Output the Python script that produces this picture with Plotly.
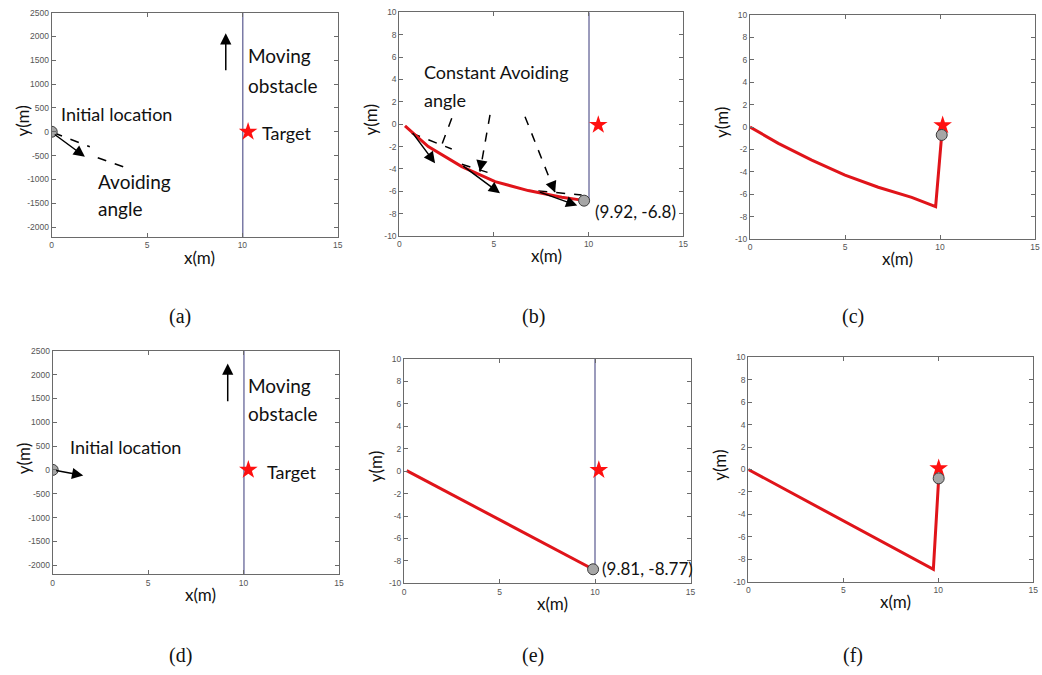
import plotly.graph_objects as go

OFF = 0
W, H = 1042, 675

# ---------------- data ----------------
x_ticks = [0, 5, 10, 15]
ya_ticks = [2500, 2000, 1500, 1000, 500, 0, -500, -1000, -1500, -2000]
yb_ticks = [10, 8, 6, 4, 2, 0, -2, -4, -6, -8, -10]

obstacle_x = 10.02
target_a = (10.3, 0)
target_d = (10.25, 0)
start_pt = (0, 0)

# panel (a) arrows (tail -> head)
a_move_arrow = [(9.13, 1260), (9.13, 2070)]
a_heading_arrow = [(0.08, -34), (1.74, -525)]
a_dash_line = [(0.1, -20), (2.0, -315)]
a_dash_arrow = [(3.75, -735), (2.27, -525)]

# panel (d) arrows
d_move_arrow = [(9.17, 1408), (9.17, 2232)]
d_heading_arrow = [(0.1, -5), (1.6, -119)]

# panel (b) trajectory
b_x = [0.30, 1.53, 3.30, 5.06, 6.81, 8.58, 9.55, 9.76]
b_y = [-0.16, -2.01, -3.80, -5.14, -5.94, -6.53, -6.77, -6.84]
b_end = (9.76, -6.84)
b_target = (10.51, -0.07)
b_solid_arrows = [[(0.65, -0.67), (1.89, -3.49)],
                  [(3.30, -3.65), (5.32, -6.18)],
                  [(7.34, -6.03), (9.40, -7.28)]]
b_dash_lines = [[(0.65, -0.81), (2.77, -2.22)],
                [(3.30, -3.58), (4.97, -4.48)],
                [(7.34, -5.97), (9.63, -6.33)]]
b_dash_arrows = [[(2.77, 0.53), (2.24, -1.86)],
                 [(4.79, 0.82), (4.26, -4.24)],
                 [(6.64, 0.67), (8.23, -6.12)]]

# panel (c) trajectory
c_x = [0.0, 1.49, 3.25, 5.00, 6.75, 8.51, 9.77, 10.09]
c_y = [0.0, -1.46, -2.95, -4.29, -5.38, -6.28, -7.12, -0.71]
c_end = (10.09, -0.71)
c_target = (10.14, 0.15)

# panel (e) trajectory
e_x = [0.14, 9.9]
e_y = [0.05, -8.75]
e_end = (9.9, -8.75)
e_target = (10.2, 0.1)

# panel (f) trajectory
f_x = [0.0, 9.74, 10.02]
f_y = [0.0, -8.9, -0.79]
f_end = (10.02, -0.79)
f_target = (10.02, 0.1)

# ---------------- layout helpers ----------------
# plot frames in page pixels: (left, right, top, bottom)
frames = {
    1: (51.7, 337.7, 12.7, 237.0),
    2: (399.3, 683.3, 12.3, 236.0),
    3: (750.0, 1035.0, 15.0, 239.0),
    4: (52.7, 339.0, 350.7, 574.3),
    5: (404.0, 690.5, 359.0, 583.3),
    6: (748.3, 1033.3, 357.3, 581.7),
}
yranges = {1: [-2210, 2500], 2: [-10, 10], 3: [-10, 10],
           4: [-2190, 2500], 5: [-10, 10], 6: [-10, 10]}


def px(x):
    return (x - OFF) / W


def py(y):
    return 1 - (y - OFF) / H


RED = "#e0141a"
OBST = "#7a7aa6"
AX = "#6a6a6a"
TXTFONT = "Lato"

fig = go.Figure()
layout = dict(width=W, height=H, margin=dict(l=0, r=0, t=0, b=0, autoexpand=False),
              paper_bgcolor="white", plot_bgcolor="white", showlegend=False)

for i, (l, r, t, b) in frames.items():
    s = "" if i == 1 else str(i)
    big = i in (1, 4)
    layout["xaxis" + s] = dict(
        domain=[px(l), px(r)], range=[0, 15], anchor="y" + s, automargin=False,
        tickvals=x_ticks, ticktext=[str(v) for v in x_ticks], ticklabeloverflow="allow",
        ticks="inside", ticklen=4, tickcolor=AX, showline=True, linecolor=AX,
        linewidth=1, mirror="ticks", showgrid=False, zeroline=False,
        tickfont=dict(family="Liberation Sans", size=8.5, color="#555"))
    yt = ya_ticks if big else yb_ticks
    layout["yaxis" + s] = dict(
        domain=[py(b), py(t)], range=yranges[i], anchor="x" + s, automargin=False,
        tickvals=yt, ticktext=[str(v) for v in yt], ticklabeloverflow="allow",
        ticks="inside", ticklen=4, tickcolor=AX, showline=True, linecolor=AX,
        linewidth=1, mirror="ticks", showgrid=False, zeroline=False,
        tickfont=dict(family="Liberation Sans", size=8.5, color="#555"))

fig.update_layout(**layout)

annotations = []


def axn(i):
    return ("x" if i == 1 else "x%d" % i), ("y" if i == 1 else "y%d" % i)


def line(i, xs, ys, color, width, dash="solid"):
    xa, ya = axn(i)
    fig.add_trace(go.Scatter(x=xs, y=ys, mode="lines", xaxis=xa, yaxis=ya,
                             line=dict(color=color, width=width, dash=dash),
                             hoverinfo="skip"))


def marker(i, pt, symbol, color, size, lc="#3a3a3a", lw=1):
    xa, ya = axn(i)
    fig.add_trace(go.Scatter(x=[pt[0]], y=[pt[1]], mode="markers", xaxis=xa, yaxis=ya,
                             marker=dict(symbol=symbol, color=color, size=size,
                                         line=dict(color=lc, width=lw)),
                             hoverinfo="skip"))


def arrow(i, tail, head, frac=1.0):
    xa, ya = axn(i)
    tx = head[0] - frac * (head[0] - tail[0])
    ty = head[1] - frac * (head[1] - tail[1])
    annotations.append(dict(x=head[0], y=head[1], ax=tx, ay=ty, xref=xa, yref=ya,
                            axref=xa, ayref=ya, showarrow=True, arrowhead=2,
                            arrowsize=1.5, arrowwidth=1.5, arrowcolor="black",
                            standoff=0, startstandoff=0, text=""))


def dashed_arrow(i, tail, head):
    line(i, [tail[0], head[0]], [tail[1], head[1]], "black", 1.5, "dash")
    arrow(i, tail, head, frac=0.15)


def text(i, x, y, s, size=18, anchor="left"):
    xa, ya = axn(i)
    annotations.append(dict(x=x, y=y, xref=xa, yref=ya, text=s, showarrow=False,
                            xanchor=anchor, yanchor="middle",
                            font=dict(family=TXTFONT, size=size, color="#111")))


# ---- panel (a)
line(1, [obstacle_x, obstacle_x], yranges[1], OBST, 1.5)
arrow(1, *a_move_arrow)
arrow(1, *a_heading_arrow)
line(1, [a_dash_line[0][0], a_dash_line[1][0]], [a_dash_line[0][1], a_dash_line[1][1]],
     "black", 1.5, "dash")
dashed_arrow(1, *a_dash_arrow)
marker(1, start_pt, "circle", "#a6a6a6", 11)
marker(1, target_a, "star", "#ff1010", 14, lc="#ff1010", lw=0)
text(1, 0.4, 365, "Initial location")
text(1, 10.17, 1611, "Moving", 19)
text(1, 10.17, 980, "obstacle", 19)
text(1, 10.92, -34, "Target", 18)
text(1, 2.32, -1050, "Avoiding", 19)
text(1, 2.32, -1609, "angle", 19)

# ---- panel (b)
line(2, [obstacle_x, obstacle_x], [b_end[1], 10], OBST, 1.5)
for seg in b_dash_lines:
    line(2, [seg[0][0], seg[1][0]], [seg[0][1], seg[1][1]], "black", 1.5, "dash")
for seg in b_dash_arrows:
    dashed_arrow(2, *seg)
line(2, b_x, b_y, RED, 3)
for seg in b_solid_arrows:
    arrow(2, *seg)
marker(2, b_end, "circle", "#a6a6a6", 11)
marker(2, b_target, "star", "#ff1010", 14, lc="#ff1010", lw=0)
text(2, 1.18, 4.69, "Constant Avoiding", 18)
text(2, 1.18, 2.16, "angle", 18)
text(2, 10.25, -7.82, "(9.92, -6.8)", 17)

# ---- panel (c)
line(3, c_x, c_y, RED, 3)
marker(3, c_target, "star", "#ff1010", 14, lc="#ff1010", lw=0)
marker(3, c_end, "circle", "#a6a6a6", 11)

# ---- panel (d)
line(4, [obstacle_x, obstacle_x], yranges[4], OBST, 1.5)
arrow(4, *d_move_arrow)
arrow(4, *d_heading_arrow)
marker(4, start_pt, "circle", "#a6a6a6", 11)
marker(4, target_d, "star", "#ff1010", 14, lc="#ff1010", lw=0)
text(4, 0.82, 487, "Initial location")
text(4, 10.11, 1778, "Moving", 19)
text(4, 10.11, 1186, "obstacle", 19)
text(4, 11.12, -35, "Target", 18)

# ---- panel (e)
line(5, [10.0, 10.0], [e_end[1], 10], OBST, 1.5)
line(5, e_x, e_y, RED, 3)
marker(5, e_end, "circle", "#a6a6a6", 11)
marker(5, e_target, "star", "#ff1010", 14, lc="#ff1010", lw=0)
text(5, 10.26, -8.65, "(9.81, -8.77)", 17)

# ---- panel (f)
line(6, f_x, f_y, RED, 3)
marker(6, f_target, "star", "#ff1010", 14, lc="#ff1010", lw=0)
marker(6, f_end, "circle", "#a6a6a6", 11)

# ---- axis titles and panel labels
for i, (l, r, t, b) in frames.items():
    cx = (l + r) / 2 + 5
    annotations.append(dict(x=px(cx), y=py(b + 20), xref="paper", yref="paper",
                            text="x(m)", showarrow=False, xanchor="center", yanchor="middle",
                            font=dict(family=TXTFONT, size=17, color="#111")))
    annotations.append(dict(x=px(l - 29), y=py((t + b) / 2 - 4), xref="paper", yref="paper",
                            text="y(m)", showarrow=False, textangle=-90,
                            xanchor="center", yanchor="middle",
                            font=dict(family=TXTFONT, size=17, color="#111")))

panel_labels = ["(a)", "(b)", "(c)", "(d)", "(e)", "(f)"]
label_pos = [(180, 316), (533, 316), (853, 316), (180, 655), (533, 655), (853, 655)]
for s, (x, y) in zip(panel_labels, label_pos):
    annotations.append(dict(x=px(x), y=py(y), xref="paper", yref="paper", text=s,
                            showarrow=False, xanchor="center", yanchor="middle",
                            font=dict(family="Liberation Serif", size=20, color="#111")))

fig.update_layout(annotations=annotations)
fig.write_html("out.html",
               config={"displayModeBar": False},
               post_script="document.body.style.margin='0px';"
                           "document.body.style.overflow='hidden';")
